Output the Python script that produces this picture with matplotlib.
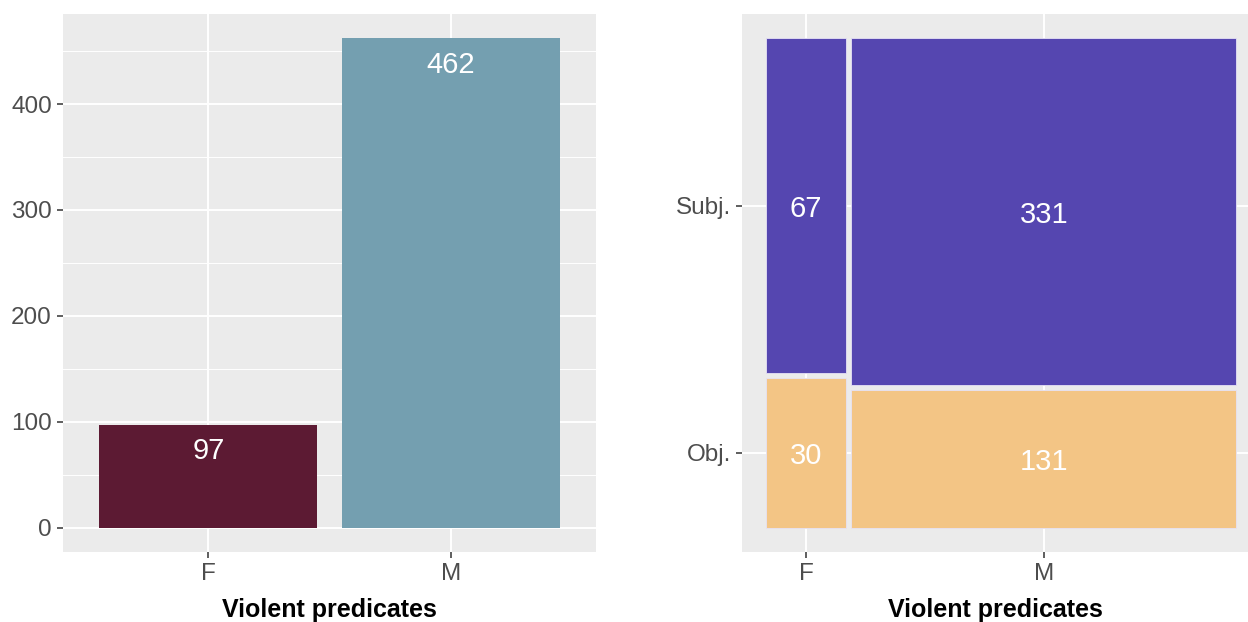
import matplotlib
matplotlib.use("Agg")
import matplotlib.pyplot as plt
from matplotlib.patches import Rectangle
import numpy as np

# data
genders = ["F", "M"]
counts = [97, 462]
roles = ["Obj.", "Subj."]
role_counts = {"F": [30, 67], "M": [131, 331]}

bar_colors = ["#5C1A33", "#749FB0"]
role_colors = {"Obj.": "#F3C585", "Subj.": "#5546B0"}

plt.rcParams["font.family"] = ["Liberation Sans", "DejaVu Sans"]

BG = "#EBEBEB"
TICK_COL = "#4D4D4D"


def style_axes(ax):
    ax.set_facecolor(BG)
    for s in ax.spines.values():
        s.set_visible(False)
    ax.tick_params(axis="both", which="major", length=4, width=1.1, color="#333333",
                   labelsize=17.5, labelcolor=TICK_COL, pad=4)
    ax.tick_params(axis="both", which="minor", length=0)
    ax.set_axisbelow(True)
    ax.set_xlabel("Violent predicates", fontsize=18, fontweight="bold", labelpad=9)


fig = plt.figure(figsize=(12.48, 6.22), dpi=100)

# left: bar chart
ax1 = fig.add_axes([63 / 1248, 70 / 622, (596 - 63) / 1248, (552 - 14) / 622])
style_axes(ax1)
xpos = np.arange(1, len(genders) + 1)
ax1.bar(xpos, counts, width=0.9, color=bar_colors, zorder=2)
for x, c in zip(xpos, counts):
    ax1.annotate(str(c), (x, c), xytext=(0, -17), textcoords="offset points",
                 ha="center", va="center_baseline", color="white", fontsize=21, zorder=3)
ax1.set_xlim(0.4, len(genders) + 0.6)
ax1.set_ylim(-0.05 * max(counts), 1.05 * max(counts))
ax1.set_xticks(xpos)
ax1.set_xticklabels(genders)
ax1.set_yticks([0, 100, 200, 300, 400])
ax1.set_yticks([50, 150, 250, 350, 450], minor=True)
ax1.grid(which="major", color="white", linewidth=1.4)
ax1.grid(which="minor", axis="y", color="white", linewidth=0.7)

# right: mosaic
ax2 = fig.add_axes([742 / 1248, 70 / 622, (1248 - 742) / 1248, (552 - 14) / 622])
style_axes(ax2)
offset = 0.01
total = sum(counts)
x0 = 0.0
xcenters = []
first_ycenters = None
for g, c in zip(genders, counts):
    w = (1 - offset) * c / total
    vals = role_counts[g]
    y0 = 0.0
    ycs = []
    for r, v in zip(roles, vals):
        h = (1 - offset) * v / c
        ax2.add_patch(Rectangle((x0, y0), w, h, facecolor=role_colors[r],
                                edgecolor="#E6E2F5", linewidth=0.6, zorder=2))
        ax2.text(x0 + w / 2, y0 + h / 2, str(v), ha="center", va="center_baseline",
                 color="white", fontsize=21, zorder=3)
        ycs.append(y0 + h / 2)
        y0 += h + offset
    if first_ycenters is None:
        first_ycenters = ycs
    xcenters.append(x0 + w / 2)
    x0 += w + offset

ax2.set_xlim(-0.05, -0.05 + 1.1 * (1248 - 742) / (1260 - 742))
ax2.set_ylim(-0.05, 1.05)
ax2.set_xticks(xcenters)
ax2.set_xticklabels(genders)
ax2.set_yticks(first_ycenters)
ax2.set_yticklabels(roles)
ax2.grid(which="major", color="white", linewidth=1.4)

fig.savefig("out.png", dpi=100)
